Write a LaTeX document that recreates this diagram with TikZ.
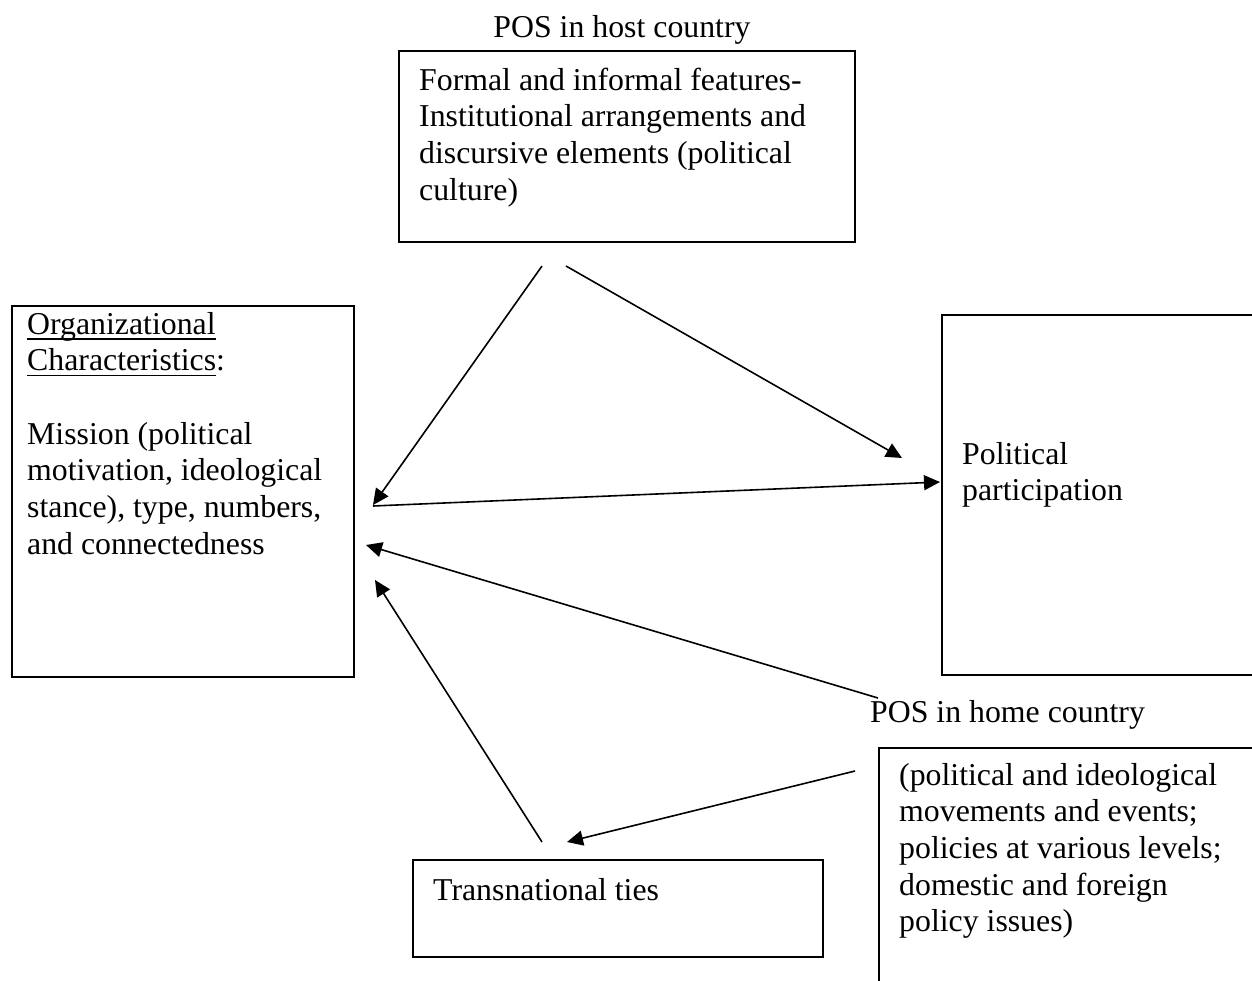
\documentclass[tikz,border=0pt]{standalone}
\usepackage{fontspec}
\setmainfont{Liberation Serif}
\usetikzlibrary{arrows.meta}
\newlength\myulw
\newcommand\myul[1]{\leavevmode\settowidth\myulw{#1}\rlap{\rule[-5.5pt]{\myulw}{1.4pt}}#1}
\begin{document}
\begin{tikzpicture}[x=1pt,y=-1pt,
  box/.style={draw,line width=1.7pt,inner sep=0pt,anchor=north west},
  txt/.style={anchor=base west,inner sep=0pt,font=\fontsize{31.8}{36.7}\selectfont},
  lbl/.style={inner sep=0pt,font=\fontsize{31.8}{36.7}\selectfont},
  arr/.style={line width=1.6pt,-{Triangle[length=16pt,width=15pt]}}]
\useasboundingbox (0,0) rectangle (1252,980);
\clip (0,0) rectangle (1252,980);
% boxes
\node[box,minimum width=456pt,minimum height=191pt] (host) at (398,50) {};
\node[box,minimum width=342pt,minimum height=371pt] (org) at (11,305) {};
\node[box,minimum width=340pt,minimum height=360pt] (part) at (941,314) {};
\node[box,minimum width=410pt,minimum height=250pt] (home) at (878,747) {};
\node[box,minimum width=410pt,minimum height=97pt] (ties) at (412,859) {};
% labels
\node[lbl,anchor=base] (hostL) at (622,37) {POS in host country};
\node[lbl,anchor=base west] (homeL) at (870,722) {POS in home country};
% texts
\node[txt] (hostT) at (419,90) {\parbox[t]{440pt}{Formal and informal features-\\Institutional arrangements and\\discursive elements (political\\culture)}};
\node[txt] (orgT) at (27,334) {\parbox[t]{320pt}{\myul{Organizational}\\\myul{Characteristics}:\\[36.7pt]Mission (political\\motivation, ideological\\stance), type, numbers,\\and connectedness}};
\node[txt] (partT) at (962,464) {\parbox[t]{280pt}{Political\\participation}};
\node[txt] (homeT) at (899,785) {\parbox[t]{350pt}{(political and ideological\\movements and events;\\policies at various levels;\\domestic and foreign\\policy issues)}};
\node[txt] (tiesT) at (433,900) {Transnational ties};
% connector end points
\coordinate (a1s) at (542,266);
\coordinate (a1e) at (373,505);
\coordinate (a2s) at (566,266);
\coordinate (a2e) at (902,458);
\coordinate (a3s) at (373,506);
\coordinate (a3e) at (940,482);
\coordinate (a4s) at (878,698);
\coordinate (a4e) at (366,545);
\coordinate (a5s) at (542,842);
\coordinate (a5e) at (375,580);
\coordinate (a6s) at (855,771);
\coordinate (a6e) at (567,842);
% connectors
\draw[arr] (a1s) -- (a1e);
\draw[arr] (a2s) -- (a2e);
\draw[arr] (a3s) -- (a3e);
\draw[arr] (a4s) -- (a4e);
\draw[arr] (a5s) -- (a5e);
\draw[arr] (a6s) -- (a6e);
\end{tikzpicture}
\end{document}
